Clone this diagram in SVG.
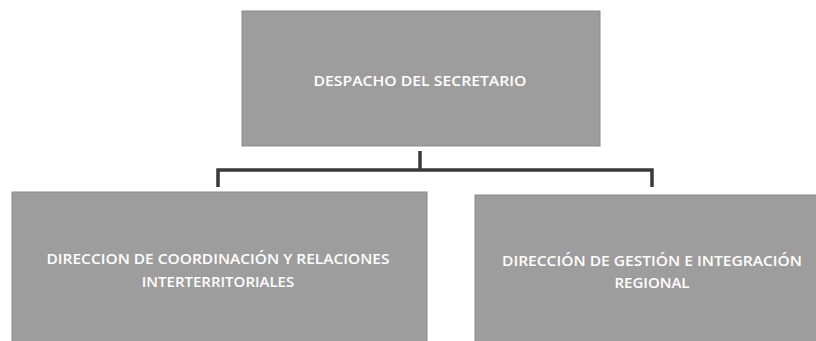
<svg xmlns="http://www.w3.org/2000/svg" width="816" height="341" viewBox="0 0 816 341">
<style>
.box{fill:#9d9d9d;stroke:#8a8a8a;stroke-width:1}
.t{fill:#ffffff;font-family:"Open Sans","Liberation Sans",sans-serif;font-size:15px;font-weight:600;text-anchor:middle}
.c{stroke:#3a3a3a;stroke-width:3.5;fill:none}
</style>
<rect width="816" height="341" fill="#ffffff"/>
<g id="connectors">
<line class="c" x1="420" y1="151" x2="420" y2="170"/>
<polyline class="c" points="218,187 218,170 652,170 652,187"/>
</g>
<g id="despacho">
<rect class="box" x="242" y="11" width="358" height="135"/>
<text class="t" x="420" y="86" textLength="213" lengthAdjust="spacingAndGlyphs">DESPACHO DEL SECRETARIO</text>
</g>
<g id="coordinacion">
<rect class="box" x="12" y="192" width="415" height="152"/>
<text class="t" x="218" y="264" textLength="343" lengthAdjust="spacingAndGlyphs">DIRECCION DE COORDINACIÓN Y RELACIONES</text>
<text class="t" x="218" y="287">INTERTERRITORIALES</text>
</g>
<g id="gestion">
<rect class="box" x="475" y="195" width="345" height="150"/>
<text class="t" x="652" y="266" textLength="300" lengthAdjust="spacingAndGlyphs">DIRECCIÓN DE GESTIÓN E INTEGRACIÓN</text>
<text class="t" x="652" y="288">REGIONAL</text>
</g>
</svg>
